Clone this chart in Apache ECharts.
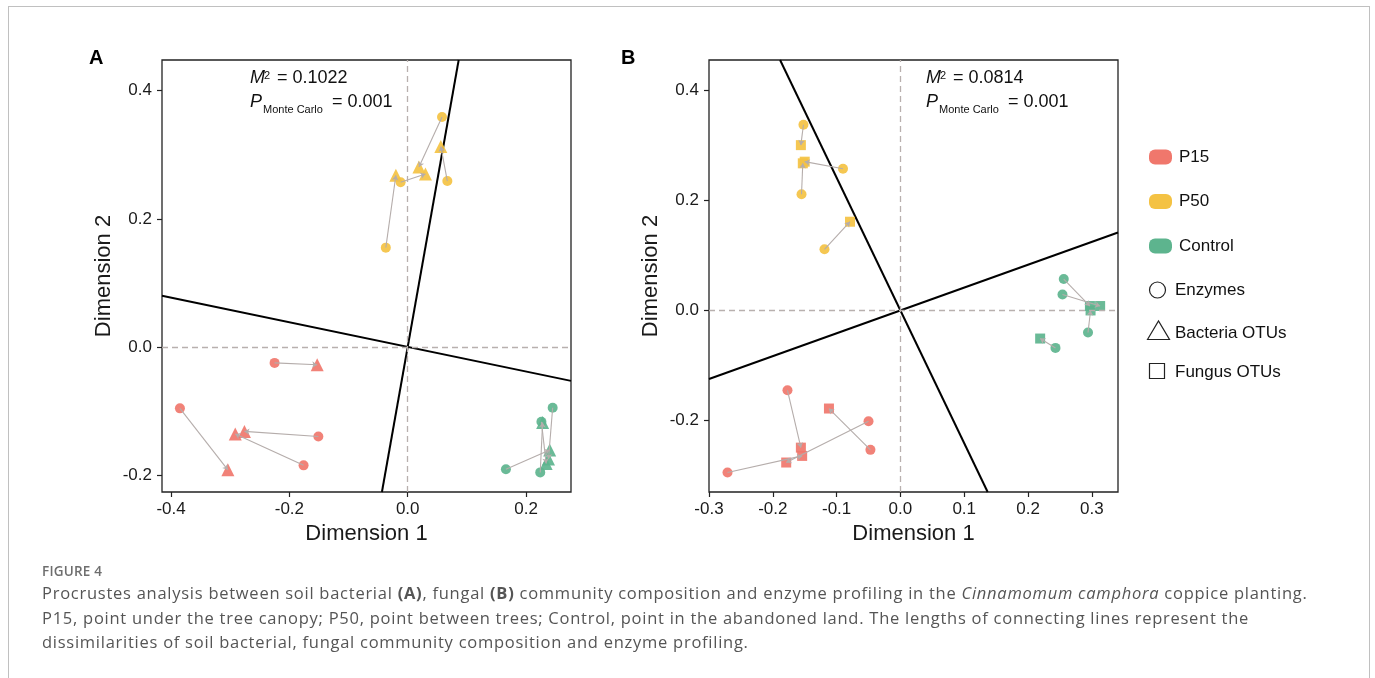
<!DOCTYPE html>
<html>
<head>
<meta charset="utf-8">
<script src="https://cdn.jsdelivr.net/npm/echarts@6/dist/echarts.min.js"></script>
<style>
  html, body { margin: 0; padding: 0; background: #fff; overflow: hidden; }
  #frame { position: absolute; left: 8px; top: 6px; width: 1362px; height: 720px; border: 1.5px solid #c0c0c0; box-sizing: border-box; }
  #chart { position: absolute; left: 0; top: 0; width: 1375px; height: 678px; }
  #caption { position: absolute; left: 42px; top: 562px; font-family: 'Open Sans', sans-serif; color: #555; }
  #caption .fig { font-size: 13.5px; font-weight: 600; color: #6e6e6e; letter-spacing: 0.2px; line-height: 18px; }
  #caption .txt { font-size: 16.5px; line-height: 24.5px; font-weight: 400; letter-spacing: 0.74px; margin-top: 1px; }
  #caption .txt b { font-weight: 700; }
</style>
</head>
<body>
<div id="frame"></div>
<div id="chart"></div>
<div id="caption">
  <div class="fig">FIGURE 4</div>
  <div class="txt">Procrustes analysis between soil bacterial <b>(A)</b>, fungal <b>(B)</b> community composition and enzyme profiling in the <i>Cinnamomum camphora</i> coppice planting.<br>P15, point under the tree canopy; P50, point between trees; Control, point in the abandoned land. The lengths of connecting lines represent the<br>dissimilarities of soil bacterial, fungal community composition and enzyme profiling.</div>
</div>
<script>
  // 组别与颜色
  const groups = ['P15', 'P50', 'Control']
  const groupColors = ['#F0776C', '#F4C243', '#5DB48E']

  // A: 细菌 OTUs vs 酶 (Enz -> Otu 一一对应)
  const aP15Enz = [[-0.225, -0.025], [-0.385, -0.096], [-0.151, -0.140], [-0.176, -0.185]]
  const aP15Otu = [[-0.153, -0.028], [-0.304, -0.192], [-0.276, -0.132], [-0.2915, -0.136]]
  const aP50Enz = [[0.058, 0.359], [0.067, 0.259], [-0.012, 0.257], [-0.037, 0.155]]
  const aP50Otu = [[0.019, 0.281], [0.056, 0.313], [0.030, 0.270], [-0.020, 0.268]]
  const aCtlEnz = [[0.245, -0.095], [0.224, -0.196], [0.166, -0.191], [0.226, -0.117]]
  const aCtlOtu = [[0.238, -0.175], [0.228, -0.118], [0.240, -0.161], [0.234, -0.182]]

  // B: 真菌 OTUs vs 酶
  const bP15Enz = [[-0.177, -0.145], [-0.047, -0.253], [-0.050, -0.201], [-0.271, -0.294]]
  const bP15Otu = [[-0.156, -0.249], [-0.112, -0.178], [-0.179, -0.276], [-0.154, -0.264]]
  const bP50Enz = [[-0.152, 0.337], [-0.090, 0.257], [-0.155, 0.211], [-0.119, 0.111]]
  const bP50Otu = [[-0.156, 0.300], [-0.150, 0.270], [-0.153, 0.267], [-0.079, 0.161]]
  const bCtlEnz = [[0.256, 0.057], [0.254, 0.029], [0.294, -0.040], [0.243, -0.068]]
  const bCtlOtu = [[0.297, 0.008], [0.313, 0.008], [0.298, 0.000], [0.219, -0.051]]

  // 旋转轴斜率 (通过原点，另一条与之垂直)
  const aAxisSlope = 5.2
  const bAxisSlope = -2.41

  // 统计量
  const aStats = ['0.1022', '0.001']
  const bStats = ['0.0814', '0.001']

  // 坐标轴范围与刻度
  const aXRange = [-0.4153, 0.276]
  const aYRange = [-0.2266, 0.448]
  const bXRange = [-0.3, 0.341]
  const bYRange = [-0.3295, 0.4545]
  const aXTicks = [-0.4, -0.2, 0.0, 0.2]
  const aYTicks = [-0.2, 0.0, 0.2, 0.4]
  const bXTicks = [-0.3, -0.2, -0.1, 0.0, 0.1, 0.2, 0.3]
  const bYTicks = [-0.2, 0.0, 0.2, 0.4]

  const legendShapes = ['Enzymes', 'Bacteria OTUs', 'Fungus OTUs']

  const font = "'Liberation Sans', Arial, sans-serif"

  function axisCfg(range, ticks, idx, name, isX) {
    return {
      type: 'value',
      gridIndex: idx,
      min: range[0],
      max: range[1],
      name: name,
      nameLocation: 'middle',
      nameGap: isX ? 28 : 47,
      nameTextStyle: { fontFamily: font, fontSize: 22, color: '#1a1a1a' },
      axisLine: { show: false, onZero: false },
      splitLine: { show: false },
      axisTick: { show: true, inside: false, length: 5, customValues: ticks, lineStyle: { color: '#222', width: 1.2 } },
      axisLabel: {
        customValues: ticks,
        margin: isX ? 9 : 10,
        fontFamily: font, fontSize: 17, color: '#1a1a1a',
        formatter: v => v.toFixed(1)
      }
    }
  }

  function panelSeries(idx, sets, otuSymbol, otuSize, slope, xr, yr) {
    let series = []
    // 旋转轴 (黑色实线)
    let l1 = [[yr[0] / slope, yr[0]], [yr[1] / slope, yr[1]]]
    let s2 = -1 / slope
    let l2 = [[xr[0], xr[0] * s2], [xr[1], xr[1] * s2]]
    ;[l1, l2].forEach(d => {
      series.push({
        type: 'line', xAxisIndex: idx, yAxisIndex: idx, data: d,
        showSymbol: false, silent: true, clip: true, z: 1,
        lineStyle: { color: '#000', width: 2 }
      })
    })
    // 零线 (灰色虚线)
    series.push({
      type: 'scatter', xAxisIndex: idx, yAxisIndex: idx, data: [], z: 1,
      markLine: {
        silent: true, symbol: 'none', label: { show: false }, animation: false,
        lineStyle: { color: '#b8b0ae', type: [6, 4], width: 1.3 },
        data: [{ xAxis: 0 }, { yAxis: 0 }]
      }
    })
    sets.forEach((s, g) => {
      series.push({
        name: groups[g], type: 'scatter', xAxisIndex: idx, yAxisIndex: idx,
        data: s[0], symbol: 'circle', symbolSize: 10, z: 3,
        itemStyle: { color: groupColors[g], opacity: 0.92 }
      })
      series.push({
        name: groups[g], type: 'scatter', xAxisIndex: idx, yAxisIndex: idx,
        data: s[1], symbol: otuSymbol, symbolSize: otuSize, z: 3,
        itemStyle: { color: groupColors[g], opacity: 0.92 }
      })
      // 连线 (酶 -> OTU)
      series.push({
        type: 'lines', coordinateSystem: 'cartesian2d', xAxisIndex: idx, yAxisIndex: idx,
        data: s[0].map((p, i) => ({ coords: [p, s[1][i]] })),
        symbol: ['none', 'arrow'], symbolSize: 5, z: 4, silent: true,
        lineStyle: { color: '#b5adab', width: 1.1, opacity: 1 }
      })
    })
    return series
  }

  function txt(x, y, text, size, italic) {
    return {
      type: 'text', x: x, y: y,
      style: { text: text, fontFamily: font, fontSize: size, fontStyle: italic ? 'italic' : 'normal', fill: '#111' }
    }
  }

  function statsText(x, stats) {
    return [
      txt(x, 69, 'M', 18, true),
      txt(x + 14, 70, '2', 11),
      txt(x + 22, 69, ' = ' + stats[0], 18),
      txt(x, 93, 'P', 18, true),
      txt(x + 13, 104, 'Monte Carlo', 11),
      txt(x + 77, 93, ' = ' + stats[1], 18)
    ]
  }

  function legendGraphic() {
    let els = []
    groups.forEach((g, i) => {
      let cy = 157 + i * 44.5
      els.push({ type: 'rect', shape: { x: 1149, y: cy - 7.5, width: 23, height: 15, r: 6 }, style: { fill: groupColors[i] } })
      els.push({ type: 'text', x: 1179, y: cy, style: { text: g, fontFamily: font, fontSize: 17, fill: '#111', verticalAlign: 'middle' } })
    })
    const stroke = { fill: 'none', stroke: '#222', lineWidth: 1.2 }
    els.push({ type: 'circle', shape: { cx: 1157.5, cy: 290, r: 8 }, style: stroke })
    els.push({ type: 'polygon', shape: { points: [[1147.5, 339.5], [1158.5, 321], [1169.5, 339.5]] }, style: stroke })
    els.push({ type: 'rect', shape: { x: 1149.5, y: 363.5, width: 15, height: 15 }, style: stroke })
    ;[290, 333, 372].forEach((cy, i) => {
      els.push({ type: 'text', x: 1175, y: cy, style: { text: legendShapes[i], fontFamily: font, fontSize: 17, fill: '#111', verticalAlign: 'middle' } })
    })
    return els
  }

  const myChart = echarts.init(document.getElementById('chart'))
  const option = {
    animation: false,
    backgroundColor: 'transparent',
    grid: [
      { left: 162, top: 60, width: 409, height: 432, show: true, borderColor: '#222', borderWidth: 1.3, backgroundColor: 'transparent' },
      { left: 709, top: 60, width: 409, height: 432, show: true, borderColor: '#222', borderWidth: 1.3, backgroundColor: 'transparent' }
    ],
    xAxis: [
      axisCfg(aXRange, aXTicks, 0, 'Dimension 1', true),
      axisCfg(bXRange, bXTicks, 1, 'Dimension 1', true)
    ],
    yAxis: [
      axisCfg(aYRange, aYTicks, 0, 'Dimension 2', false),
      axisCfg(bYRange, bYTicks, 1, 'Dimension 2', false)
    ],
    series: [].concat(
      panelSeries(0, [[aP15Enz, aP15Otu], [aP50Enz, aP50Otu], [aCtlEnz, aCtlOtu]], 'triangle', 13, aAxisSlope, aXRange, aYRange),
      panelSeries(1, [[bP15Enz, bP15Otu], [bP50Enz, bP50Otu], [bCtlEnz, bCtlOtu]], 'rect', 10, bAxisSlope, bXRange, bYRange)
    ),
    graphic: [].concat(
      [
        { type: 'text', x: 89, y: 48, style: { text: 'A', fontFamily: font, fontSize: 20, fontWeight: 'bold', fill: '#000' } },
        { type: 'text', x: 621, y: 48, style: { text: 'B', fontFamily: font, fontSize: 20, fontWeight: 'bold', fill: '#000' } }
      ],
      statsText(250, aStats),
      statsText(926, bStats),
      legendGraphic()
    )
  }
  myChart.setOption(option)
</script>
</body>
</html>
